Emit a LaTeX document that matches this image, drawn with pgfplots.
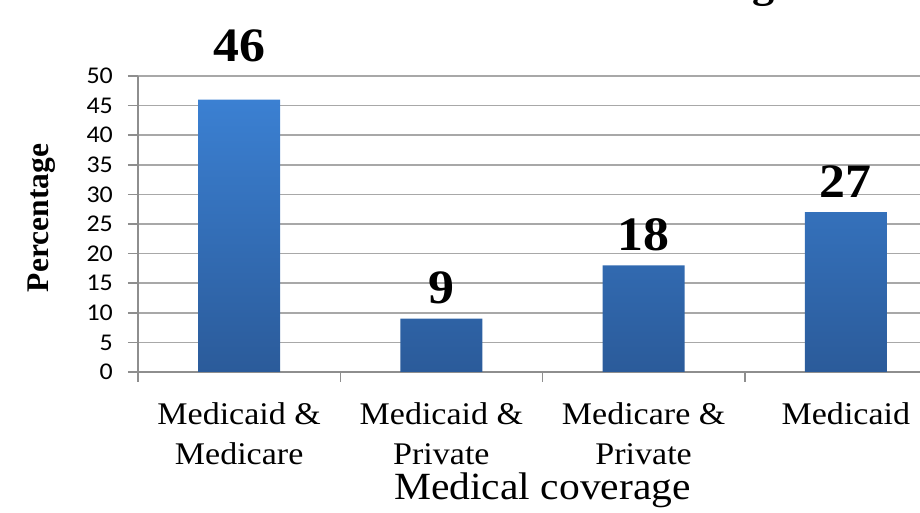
\documentclass[border=0pt]{standalone}
\usepackage{fontspec}
\setmainfont{Liberation Serif}[FakeStretch=1.08]
\newfontfamily\carlito{Carlito}[FakeStretch=1.08]
\newfontfamily\plainserif{Liberation Serif}
\usepackage{pgfplots}
\usepackage{pgfplotstable}
\pgfplotsset{compat=1.18}

\definecolor{bartop}{HTML}{3B80D2}
\definecolor{barbot}{HTML}{2B5B9A}
\definecolor{gridgray}{HTML}{A8A8A8}
\definecolor{axisgray}{HTML}{8E8E8E}

% share of patients per coverage type, lift = label offset above bar
\pgfplotstableread{
x y lift
0 46 38
1 9 15
2 18 15
3 27 15
}\coverage

\begin{document}
\begin{tikzpicture}
\begin{axis}[
    scale only axis,
    width=809pt, height=296pt,
    at={(138pt,141pt)}, anchor=south west,
    xmin=-0.5, xmax=3.5,
    ymin=0, ymax=50,
    clip=false,
    axis lines*=left,
    axis line style={axisgray, line width=1.5pt},
    /pgf/number format/assume math mode=true,
    ytick={0,5,...,50},
    ymajorgrids,
    grid style={gridgray, line width=1.5pt},
    xtick={-0.5,0.5,1.5,2.5,3.5},
    xticklabels={},
    extra x ticks={0,1,2,3},
    extra x tick labels={Medicaid \&\\Medicare, Medicaid \&\\Private, Medicare \&\\Private, Medicaid},
    extra x tick style={major tick length=0pt, grid=none},
    tick align=outside,
    major tick length=10pt,
    tick style={axisgray, line width=1.5pt},
    yticklabel style={font=\carlito\fontsize{24}{24}\selectfont, anchor=east, inner sep=0pt, xshift=-15pt},
    xticklabel style={font=\fontsize{31.5}{40}\selectfont, align=center, anchor=north, inner sep=0pt, yshift=-30pt},
    title={\bfseries Patients' medical coverage},
    title style={font=\fontsize{41}{44}\selectfont, at={(axis description cs:0.5,1.245)}, anchor=base},
    xlabel={Medical coverage},
    xlabel style={font=\fontsize{38.5}{40}\selectfont, at={(axis description cs:0.5,-0.432)}, anchor=base},
    ylabel={Percentage},
    ylabel style={font=\plainserif\bfseries\fontsize{31.5}{32}\selectfont, at={(axis description cs:-0.1187,0.52)}, anchor=center, rotate=0},
]
\addplot[
    ybar, bar width=82pt, draw=none,
    top color=bartop, bottom color=barbot,
    nodes near coords,
    point meta=explicit,
    visualization depends on={\thisrow{lift} \as \lift},
    every node near coord/.append style={font=\bfseries\fontsize{48}{48}\selectfont, text=black, anchor=base, inner sep=0pt, yshift=\lift},
] table[x=x, y=y, meta=y] {\coverage};
\end{axis}
\pgfresetboundingbox
\path[use as bounding box] (0,0) rectangle (920pt,513pt);
\end{tikzpicture}
\end{document}
